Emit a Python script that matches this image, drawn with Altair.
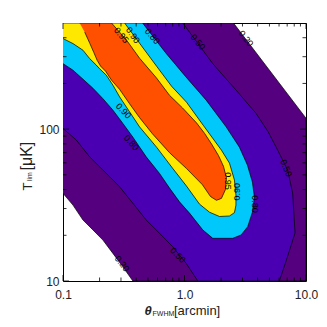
import altair as alt
import pandas as pd

# ---- contour regions (closed outlines), x = theta_FWHM [arcmin], y = T_lim [muK]
c20_x = [0.1, 2.53, 10.0, 10.0, 0.376, 0.311, 0.2575, 0.213, 0.1763, 0.146, 0.1208, 0.1]
c20_y = [500, 500, 118, 10, 10, 12.4, 15.2, 18.6, 21.7, 25.2, 31.6, 37.8]

c50_x = [0.1, 0.968, 1.708, 2.66, 3.885, 4.90, 5.848, 7.063, 7.766, 8.126, 6.891, 6.037,
         1.287, 1.032, 0.8013, 0.6229, 0.4842, 0.3758, 0.2923, 0.2419, 0.2, 0.1656, 0.1288, 0.1]
c50_y = [500, 500, 270, 180.6, 126.9, 95.6, 72.7, 53.7, 37.9, 20.7, 13.7, 10,
         10, 13.07, 16.8, 20.6, 25.2, 32.5, 41.7, 48.6, 56.5, 65.7, 84.7, 101.1]

c80_x = [0.1, 0.4517, 0.7073, 1.032, 1.508, 2.2015, 2.831, 3.295, 3.622, 3.761, 3.622, 3.313,
         2.924, 2.4945, 1.7084, 1.414, 1.099, 0.9096, 0.753, 0.6229, 0.4842, 0.3758, 0.3111,
         0.2575, 0.213, 0.1763, 0.146, 0.1208, 0.1]
c80_y = [500, 500, 314.8, 219.9, 155.2, 103.5, 76.1, 58.0, 44.8, 35.7, 28.4, 22.8,
         20.1, 19.1, 19.1, 21.7, 28.0, 33.2, 40.9, 51.1, 65.7, 88.6, 109,
         133.4, 158.8, 186.1, 213.3, 244.5, 270]

c90_x = [0.1, 0.3213, 0.4266, 0.589, 0.782, 1.0385, 1.4241, 2.0137, 2.3442, 2.5763, 2.65, 2.65,
         2.576, 2.344, 1.9397, 1.6048, 1.3287, 1.0385, 0.7963, 0.589, 0.4266, 0.3532, 0.2923,
         0.2575, 0.2273, 0.2, 0.188, 0.1656, 0.146, 0.1208, 0.1]
c90_y = [500, 500, 368, 259.8, 191.8, 150.5, 106.2, 72.7, 59.7, 46.2, 36.8, 31.6,
         28.2, 26.8, 26.6, 28.4, 32.1, 42.2, 55.4, 76.1, 103.5, 130, 163.2,
         194.8, 226.6, 250, 264, 291.8, 331, 366, 395]

c95_x = [0.137, 0.251, 0.334, 0.427, 0.589, 0.753, 0.963, 1.255, 1.46, 1.667, 1.904, 2.092,
         2.214, 2.173, 2.014, 1.832, 1.636, 1.406, 1.039, 0.753, 0.546, 0.427, 0.353, 0.292,
         0.251, 0.224, 0.204, 0.191, 0.179, 0.166, 0.151]
c95_y = [500, 500, 385, 293, 217, 167, 138, 110, 94, 80, 67, 57,
         48, 40, 35, 34, 36, 43, 55, 70, 93, 119, 147, 183,
         210, 241, 260, 284, 321, 368, 435]

region_colors = ["#55007f", "#4a00b2", "#00c8fa", "#ffe800", "#ff5000"]

# ---- contour labels
lab_text = ["0.20", "0.20", "0.50", "0.50", "0.50", "0.80", "0.80", "0.80",
            "0.90", "0.90", "0.90", "0.95", "0.95"]
lab_x = [3.215, 0.306, 1.287, 6.85, 0.881, 0.543, 0.365, 3.834, 0.376, 0.315, 2.69, 0.302, 2.30]
lab_y = [395, 13.0, 375, 55.4, 14.8, 409, 81.3, 32.1, 415, 131.9, 38.7, 415, 45.5]
lab_angle = [52, 52, 50, 68, 45, 50, 48, 90, 55, 45, 270, 50, 90]

# ---- ticks
x_major = [0.1, 1.0, 10.0]
x_minor = [0.2, 0.3, 0.4, 0.5, 0.6, 0.7, 0.8, 0.9, 2, 3, 4, 5, 6, 7, 8, 9]
y_major = [10, 100]
y_minor = [20, 30, 40, 50, 60, 70, 80, 90, 200, 300, 400]

W, H = 243, 258
FONT = "Liberation Sans"
xscale = alt.Scale(type="log", domain=[0.1, 10], nice=False)
yscale = alt.Scale(type="log", domain=[10, 500], nice=False)

xaxis = alt.Axis(values=x_major, labelExpr="datum.value < 0.5 ? '0.1' : (datum.value < 5 ? '1.0' : '10.0')",
                 title=None, ticks=False, domain=False, grid=False, labelFont=FONT, labelFontSize=12,
                 labelColor="#222222", labelPadding=8, labelFlush=False)
yaxis = alt.Axis(values=y_major, labelExpr="datum.value < 50 ? '10' : '100'",
                 title=None, ticks=False, domain=False, grid=False, labelFont=FONT, labelFontSize=12,
                 labelColor="#222222", labelPadding=4, labelFlush=False)

X = lambda f: alt.X(f, scale=xscale, axis=xaxis, title=None)
Y = lambda f: alt.Y(f, scale=yscale, axis=yaxis, title=None)

layers = []
polys = [(c20_x, c20_y), (c50_x, c50_y), (c80_x, c80_y), (c90_x, c90_y), (c95_x, c95_y)]
for (xs, ys), col in zip(polys, region_colors):
    df = pd.DataFrame({"x": xs, "y": ys, "i": list(range(len(xs)))})
    layers.append(
        alt.Chart(df).mark_line(fill=col, stroke="black", strokeWidth=0.7, clip=True).encode(
            x=X("x:Q"), y=Y("y:Q"), order=alt.Order("i:Q"),
        )
    )

labdf = pd.DataFrame({"x": lab_x, "y": lab_y, "t": lab_text, "a": lab_angle})
layers.append(
    alt.Chart(labdf).mark_text(font=FONT, fontSize=9, color="black").encode(
        x=X("x:Q"), y=Y("y:Q"), text="t:N", angle=alt.Angle("a:Q", scale=None),
    )
)

def xticks(vals, L):
    d = pd.DataFrame({"x": vals})
    base = alt.Chart(d).mark_rule(color="black", strokeWidth=0.8)
    return [
        base.encode(x=X("x:Q"), y=alt.value(H), y2=alt.value(H - L)),
        base.encode(x=X("x:Q"), y=alt.value(0), y2=alt.value(L)),
    ]

def yticks(vals, L):
    d = pd.DataFrame({"y": vals})
    base = alt.Chart(d).mark_rule(color="black", strokeWidth=0.8)
    return [
        base.encode(y=Y("y:Q"), x=alt.value(0), x2=alt.value(L)),
        base.encode(y=Y("y:Q"), x=alt.value(W), x2=alt.value(W - L)),
    ]

layers += xticks(x_major, 6) + xticks(x_minor, 3.5) + yticks(y_major, 6) + yticks(y_minor, 3.5)

# ---- axis titles built from pieces (main text + small subscript)
def piece(text, x, y, size, angle=0, style="normal", weight="normal"):
    d = pd.DataFrame({"t": [text]})
    return alt.Chart(d).mark_text(font=FONT, fontSize=size, align="left", baseline="alphabetic",
                                  angle=angle, fontStyle=style, fontWeight=weight,
                                  color="#222222").encode(
        x=alt.value(x), y=alt.value(y), text="t:N")

layers += [
    piece("θ", 81.5, 291.5, 13, style="italic", weight="bold"),
    piece("FWHM", 89.5, 292.5, 7),
    piece("[arcmin]", 111, 291.5, 13),
    piece("T", -31.5, 167.5, 13, angle=270),
    piece("lim", -31.5, 158.0, 7, angle=270),
    piece("[μK]", -31.5, 147.5, 16, angle=270),
]

chart = alt.layer(*layers).properties(
    width=W, height=H,
    autosize=alt.AutoSizeParams(type="none"),
    padding={"left": 55, "top": 15, "right": 12, "bottom": 44},
).configure_view(stroke="black", strokeWidth=1)

chart.save("out.html", embed_options={"renderer": "svg", "actions": False})
